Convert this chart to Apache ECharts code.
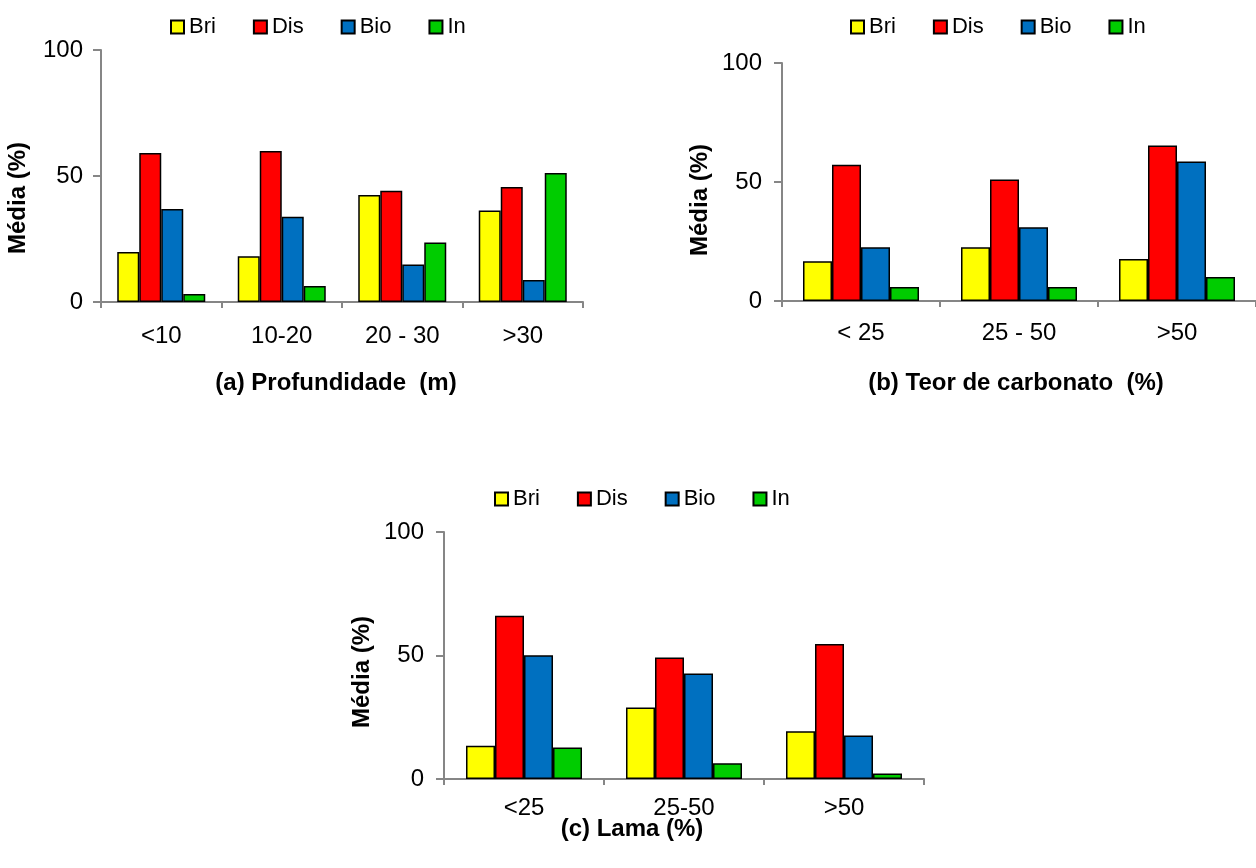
<!DOCTYPE html>
<html><head><meta charset="utf-8">
<script src="https://cdn.jsdelivr.net/npm/echarts@6/dist/echarts.min.js"></script>
<style>html,body{margin:0;padding:0;background:#fff}#c{width:1256px;height:868px}</style>
</head><body><div id="c"></div>
<script>
const seriesNames = ['Bri', 'Dis', 'Bio', 'In'];
const colors = ['#FFFF00', '#FF0000', '#0070C0', '#00CC00'];

const catsA = ['<10', '10-20', '20 - 30', '>30'];
const briA = [19.8, 18.2, 42.5, 36.3];
const disA = [59.1, 59.9, 44.1, 45.6];
const bioA = [36.9, 33.8, 14.9, 8.7];
const inA  = [3.2, 6.3, 23.6, 51.2];

const catsB = ['< 25', '25 - 50', '>50'];
const briB = [16.7, 22.6, 17.6];
const disB = [57.2, 51.1, 65.3];
const bioB = [22.6, 31.0, 58.6];
const inB  = [5.9, 5.9, 10.1];

const catsC = ['<25', '25-50', '>50'];
const briC = [13.5, 28.9, 19.3];
const disC = [66.1, 49.2, 54.7];
const bioC = [50.1, 42.7, 17.6];
const inC  = [12.8, 6.4, 2.2];

const yTicks = { min: 0, max: 100, interval: 50 };
const yName = 'Média (%)';
const panelTitles = ['(a) Profundidade  (m)', '(b) Teor de carbonato  (%)', '(c) Lama (%)'];

const FONT = '"Liberation Sans", Arial, sans-serif';
const axisGray = '#868686';

const panels = [
  { cats: catsA, data: [briA, disA, bioA, inA], grid: { left: 101, top: 50, width: 482, height: 252 }, barW: 22, xMargin: 22, yMargin: 18, legend: { left: 165, top: 11 }, name: [18, 198], title: [336, 383] },
  { cats: catsB, data: [briB, disB, bioB, inB], grid: { left: 782, top: 63, width: 479, height: 238 }, barW: 29, xMargin: 20, yMargin: 20, legend: { left: 845, top: 11 }, name: [700, 200], title: [1016, 383] },
  { cats: catsC, data: [briC, disC, bioC, inC], grid: { left: 444, top: 532, width: 480, height: 247 }, barW: 29, xMargin: 17, yMargin: 20, legend: { left: 489, top: 483 }, name: [362, 672], title: [632, 829] }
];

const option = {
  animation: false,
  backgroundColor: '#fff',
  textStyle: { fontFamily: FONT },
  grid: panels.map(p => Object.assign({ containLabel: false }, p.grid)),
  legend: panels.map(p => ({
    left: p.legend.left, top: p.legend.top,
    data: seriesNames, icon: 'rect', itemWidth: 13, itemHeight: 13, itemGap: 37,
    textStyle: { fontSize: 22, color: '#000', fontFamily: FONT },
    selectedMode: false
  })),
  xAxis: panels.map((p, i) => ({
    type: 'category', gridIndex: i, data: p.cats,
    axisLine: { lineStyle: { color: axisGray, width: 2 } },
    axisTick: { show: true, length: 6, lineStyle: { color: axisGray, width: 2 } },
    axisLabel: { fontSize: 24, color: '#000', margin: p.xMargin, fontFamily: FONT }
  })),
  yAxis: panels.map((p, i) => ({
    type: 'value', gridIndex: i, min: yTicks.min, max: yTicks.max, interval: yTicks.interval,
    axisLine: { show: true, lineStyle: { color: axisGray, width: 2 } },
    axisTick: { show: true, length: 8, lineStyle: { color: axisGray, width: 2 } },
    axisLabel: { fontSize: 24, color: '#000', margin: p.yMargin, fontFamily: FONT },
    splitLine: { show: false }
  })),
  series: [],
  graphic: []
};

panels.forEach((p, i) => {
  option.graphic.push({
    type: 'text', x: p.title[0], y: p.title[1],
    style: { text: panelTitles[i], font: 'bold 24px ' + FONT, fill: '#000', align: 'center', verticalAlign: 'middle' }
  });
  option.graphic.push({
    type: 'text', x: p.name[0], y: p.name[1], rotation: Math.PI / 2,
    style: { text: yName, font: 'bold 24px ' + FONT, fill: '#000', align: 'center', verticalAlign: 'middle' }
  });
  p.data.forEach((vals, k) => {
    option.series.push({
      name: seriesNames[k], type: 'bar', xAxisIndex: i, yAxisIndex: i,
      data: vals, barWidth: p.barW, barGap: '0%',
      itemStyle: { color: colors[k], borderColor: '#000', borderWidth: 1.5 }
    });
  });
});

const chart = echarts.init(document.getElementById('c'), null, { renderer: 'canvas' });
chart.setOption(option);
</script>
</body></html>
